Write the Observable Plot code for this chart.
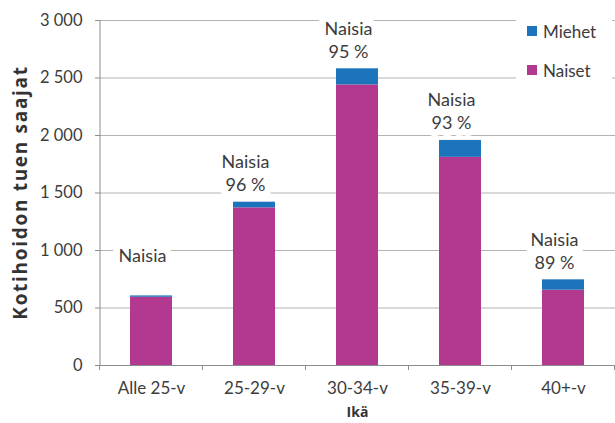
<!DOCTYPE html>
<html><head><meta charset="utf-8">
<script src="https://cdn.jsdelivr.net/npm/d3@7"></script>
<script src="https://cdn.jsdelivr.net/npm/@observablehq/plot@0.6"></script>
<style>body{margin:0;background:#fff} #chart{position:relative;width:615px;height:423px}</style>
</head><body><div id="chart"></div>
<script>
const categories = ["Alle 25-v", "25-29-v", "30-34-v", "35-39-v", "40+-v"];
const naiset = [593, 1371, 2440, 1810, 655];
const miehet = [12, 49, 140, 147, 90];
const percentLabels = ["", "96 %", "95 %", "93 %", "89 %"];
const series = ["Naiset", "Miehet"];
const legendOrder = ["Miehet", "Naiset"];
const colors = ["#b3388f", "#1c75bc"];
const yTicks = [0, 500, 1000, 1500, 2000, 2500, 3000];
const yTitle = "Kotihoidon tuen saajat";
const xTitle = "Ikä";
const barLabel = "Naisia";

const rows = categories.flatMap((c, i) => [
  {cat: c, sex: "Naiset", value: naiset[i]},
  {cat: c, sex: "Miehet", value: miehet[i]}
]);
const totals = categories.map((c, i) => ({cat: c, total: naiset[i] + miehet[i], pct: percentLabels[i]}));
const fmt = d => d3.format(",")(d).replace(/,/g, " ");
const font = "Lato, sans-serif";
const titleFont = "'Open Sans', sans-serif";
const textColor = "#3c3c3c";
const axisColor = "#8c8c8c";

const haloOpts = {fill: "white", stroke: "white", strokeWidth: 14, strokeLinejoin: "round", fontSize: 18, dx: -9};
const textOpts = {fill: textColor, fontSize: 18, dx: -9};

const chart = Plot.plot({
  width: 615, height: 423,
  marginLeft: 100, marginRight: 0, marginTop: 20, marginBottom: 58,
  style: {fontFamily: font, background: "white"},
  x: {domain: categories, paddingInner: 0.59, paddingOuter: 0.295},
  y: {domain: [0, 3000]},
  color: {domain: series, range: colors},
  marks: [
    Plot.gridY(yTicks.filter(d => d > 0), {stroke: "#b3b3b3", strokeOpacity: 1}),
    Plot.barY(rows, {x: "cat", y: "value", fill: "sex", order: series}),
    Plot.ruleY([0], {stroke: axisColor}),
    Plot.axisY({ticks: yTicks, tickFormat: fmt, tickSize: 5, tickPadding: 13, fontSize: 16.5, stroke: axisColor, fill: textColor, label: null}),
    Plot.axisX({tickSize: 0, tickPadding: 16, fontSize: 17, fill: textColor, label: null}),
    Plot.text(totals, {x: "cat", y: "total", text: "pct", dy: -17, ...haloOpts}),
    Plot.text(totals, {x: "cat", y: "total", text: () => barLabel, dy: -40, ...haloOpts}),
    Plot.text(totals, {x: "cat", y: "total", text: "pct", dy: -17, ...textOpts}),
    Plot.text(totals, {x: "cat", y: "total", text: () => barLabel, dy: -40, ...textOpts})
  ]
});
document.getElementById("chart").appendChild(chart);

const svg = d3.select(chart);
const xs = chart.scale("x");
const ys = chart.scale("y");
const step = xs.step ?? xs.bandwidth / (1 - 0.59);
const gap = (step - xs.bandwidth) / 2;
const y0 = ys.apply(0), yTop = ys.apply(3000);
const left = 100;

// y axis line
svg.append("line").attr("x1", left).attr("x2", left).attr("y1", yTop).attr("y2", y0)
  .attr("stroke", axisColor);
// category boundary ticks
const bounds = categories.map(c => xs.apply(c) - gap);
bounds.push(xs.apply(categories[categories.length - 1]) + xs.bandwidth + gap);
svg.append("g").selectAll("line").data(bounds).join("line")
  .attr("x1", d => d).attr("x2", d => d).attr("y1", y0).attr("y2", y0 + 5)
  .attr("stroke", axisColor);

// axis titles
svg.append("text").attr("transform", `translate(20,${(y0 + yTop) / 2}) rotate(-90)`)
  .attr("text-anchor", "middle").attr("dominant-baseline", "central")
  .attr("font-family", titleFont).attr("font-weight", "bold").attr("font-size", 19)
  .attr("letter-spacing", "1.7px").attr("fill", "#333").text(yTitle);
svg.append("text").attr("x", (left + 615) / 2).attr("y", 411)
  .attr("text-anchor", "middle").attr("dominant-baseline", "central")
  .attr("font-family", titleFont).attr("font-weight", "bold").attr("font-size", 14)
  .attr("fill", "#333").text(xTitle);

// legend
const lg = svg.append("g");
lg.append("rect").attr("x", 516).attr("y", 14).attr("width", 96).attr("height", 72).attr("fill", "white");
legendOrder.forEach((s, i) => {
  const cy = 31 + i * 39;
  lg.append("rect").attr("x", 527).attr("y", cy - 5).attr("width", 10).attr("height", 10)
    .attr("fill", colors[series.indexOf(s)]);
  lg.append("text").attr("x", 543).attr("y", cy).attr("dominant-baseline", "central")
    .attr("text-anchor", "start")
    .attr("font-family", font).attr("font-size", 17).attr("fill", textColor).text(s);
});
</script>
</body></html>
